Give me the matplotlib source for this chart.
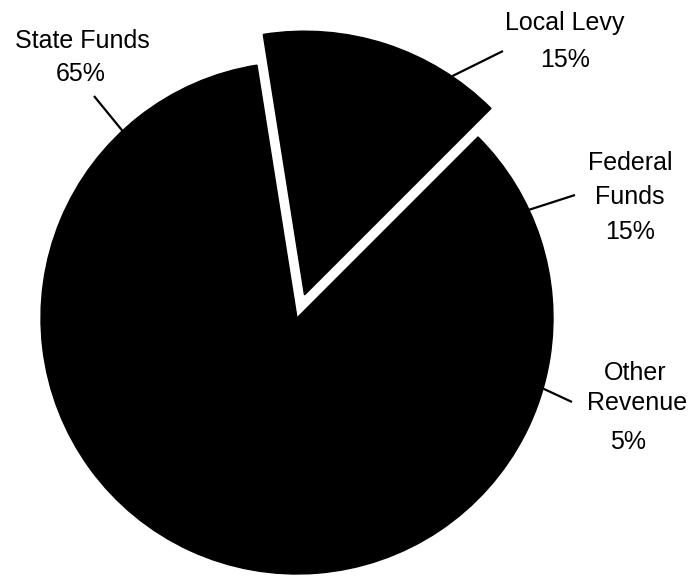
import matplotlib
matplotlib.use("Agg")
import matplotlib.pyplot as plt
import numpy as np

plt.rcParams['font.family'] = ['Liberation Sans', 'DejaVu Sans']

# Data
categories = ["Other Revenue", "Federal Funds", "Local Levy", "State Funds"]
label_lines = [["Other", "Revenue"], ["Federal", "Funds"], ["Local Levy"], ["State Funds"]]
values = [5, 15, 15, 65]
explode_frac = [0, 0, 0.095, 0]

W, H = 690, 580
fig = plt.figure(figsize=(W / 100, H / 100), dpi=100)
ax = fig.add_axes([0, 0, 1, 1])

cx, cy, r = 297, 262, 256
wedges, _ = ax.pie(values, explode=[e * r for e in explode_frac], startangle=-27,
                   counterclock=True, colors=['black'] * 4, center=(cx, cy), radius=r,
                   wedgeprops=dict(linewidth=1.0, edgecolor='black'), frame=True)
ax.set_xlim(0, W)
ax.set_ylim(0, H)
ax.set_aspect('equal')
ax.axis('off')
wedges[2].set_radius(r * 1.03)

# layout: anchor angle on wedge edge, line end, text line centres (y measured from top)
layout = {
    "State Funds": dict(ang=133, end=(94, 96), lines=[(82, 41), (81, 74)]),
    "Local Levy": dict(ang=56, end=(503, 51), lines=[(565, 23), (565, 60)]),
    "Federal Funds": dict(ang=25, end=(575, 195), lines=[(630, 163), (630, 197), (630, 232)]),
    "Other Revenue": dict(ang=-16, end=(572, 402), lines=[(635, 373), (637, 403), (628, 442)]),
}

for i, cat in enumerate(categories):
    w = wedges[i]
    lc = layout[cat]
    wx, wy = w.center
    rad = w.r
    a = np.deg2rad(lc['ang'])
    sx, sy = wx + rad * np.cos(a), wy + rad * np.sin(a)
    ex, ey = lc['end']
    ax.plot([sx, ex], [sy, H - ey], color='black', lw=1.6, solid_capstyle='butt')
    texts = label_lines[i] + [f"{values[i]}%"]
    for t, (tx, ty) in zip(texts, lc['lines']):
        ax.text(tx, H - ty, t, ha='center', va='center', fontsize=18)

fig.savefig("out.png", dpi=100)
